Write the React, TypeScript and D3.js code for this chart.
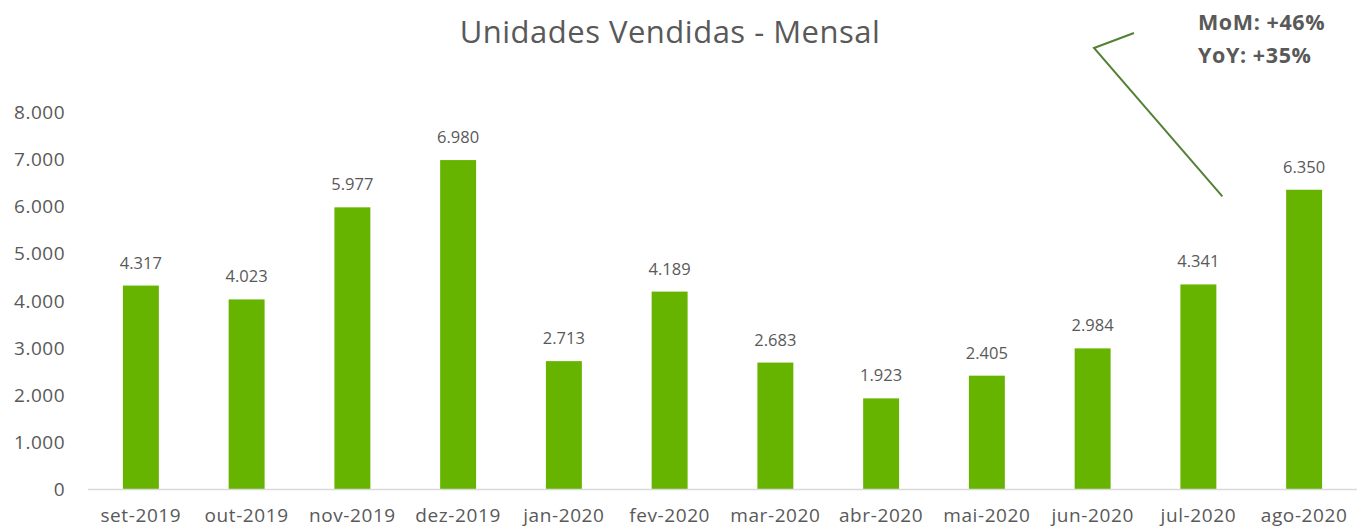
import React, { useEffect, useRef } from 'react';
import * as d3 from 'd3';

const months = ['set-2019', 'out-2019', 'nov-2019', 'dez-2019', 'jan-2020', 'fev-2020', 'mar-2020', 'abr-2020', 'mai-2020', 'jun-2020', 'jul-2020', 'ago-2020'];
const unidades = [4317, 4023, 5977, 6980, 2713, 4189, 2683, 1923, 2405, 2984, 4341, 6350];
const yTicks = [0, 1000, 2000, 3000, 4000, 5000, 6000, 7000, 8000];
const notes = ['MoM: +46%', 'YoY: +35%'];

const W = 1357, H = 530;
const FONT = '"Open Sans", "Noto Sans", sans-serif';

// thousands with a dot, like the pt-BR excel chart
const fmt = (v: number) => d3.format(',')(v).replace(/,/g, '.');

export default function App() {
  const ref = useRef<SVGSVGElement>(null);

  useEffect(() => {
    const svg = d3.select(ref.current);
    svg.selectAll('*').remove();

    const x = d3.scaleBand<string>()
      .domain(months)
      .range([88, 1357])
      .paddingInner(0.66)
      .paddingOuter(0.33);

    const y = d3.scaleLinear().domain([0, 8000]).range([489, 112]);

    // title
    svg.append('text')
      .attr('x', 670).attr('y', 43)
      .attr('text-anchor', 'middle')
      .attr('font-family', FONT)
      .attr('font-size', 31)
      .attr('letter-spacing', 0.5)
      .attr('fill', '#595959')
      .text('Unidades Vendidas - Mensal');

    // y axis labels (no line)
    svg.append('g').selectAll('text')
      .data(yTicks)
      .enter().append('text')
      .attr('x', 65)
      .attr('y', d => y(d) + 7)
      .attr('text-anchor', 'end')
      .attr('font-family', FONT)
      .attr('font-size', 19)
      .attr('letter-spacing', 0.5)
      .attr('fill', '#595959')
      .text(d => fmt(d));

    // bars
    svg.append('g').selectAll('rect')
      .data(unidades)
      .enter().append('rect')
      .attr('x', (d, i) => x(months[i])!)
      .attr('y', d => y(d))
      .attr('width', x.bandwidth())
      .attr('height', d => y(0) - y(d))
      .attr('fill', '#66b400');

    // data labels
    svg.append('g').selectAll('text')
      .data(unidades)
      .enter().append('text')
      .attr('x', (d, i) => x(months[i])! + x.bandwidth() / 2)
      .attr('y', d => y(d) - 17)
      .attr('text-anchor', 'middle')
      .attr('font-family', FONT)
      .attr('font-size', 16.5)
      .attr('fill', '#595959')
      .text(d => fmt(d));

    // x axis line + labels
    svg.append('line')
      .attr('x1', 88).attr('x2', 1357)
      .attr('y1', 489.5).attr('y2', 489.5)
      .attr('stroke', '#d9d9d9')
      .attr('stroke-width', 1.5);

    svg.append('g').selectAll('text')
      .data(months)
      .enter().append('text')
      .attr('x', d => x(d)! + x.bandwidth() / 2)
      .attr('y', 522)
      .attr('text-anchor', 'middle')
      .attr('font-family', FONT)
      .attr('font-size', 19)
      .attr('letter-spacing', 0.6)
      .attr('fill', '#595959')
      .text(d => d);

    // callout line pointing at jul-2020
    const lx = x('jul-2020')! + x.bandwidth() + 6;
    svg.append('path')
      .attr('d', d3.line()([[1134, 33], [1094, 48], [lx, y(unidades[10]) - 88]]))
      .attr('fill', 'none')
      .attr('stroke', '#548235')
      .attr('stroke-width', 2);

    svg.append('g').selectAll('text')
      .data(notes)
      .enter().append('text')
      .attr('x', 1198)
      .attr('y', (d, i) => 30 + i * 33)
      .attr('font-family', FONT)
      .attr('font-weight', 'bold')
      .attr('font-size', 21.5)
      .attr('letter-spacing', 0.6)
      .attr('fill', '#595959')
      .text(d => d);
  }, []);

  return (
    <svg ref={ref} width={W} height={H}
      style={{ position: 'absolute', left: 0, top: 0, background: '#fff' }} />
  );
}
